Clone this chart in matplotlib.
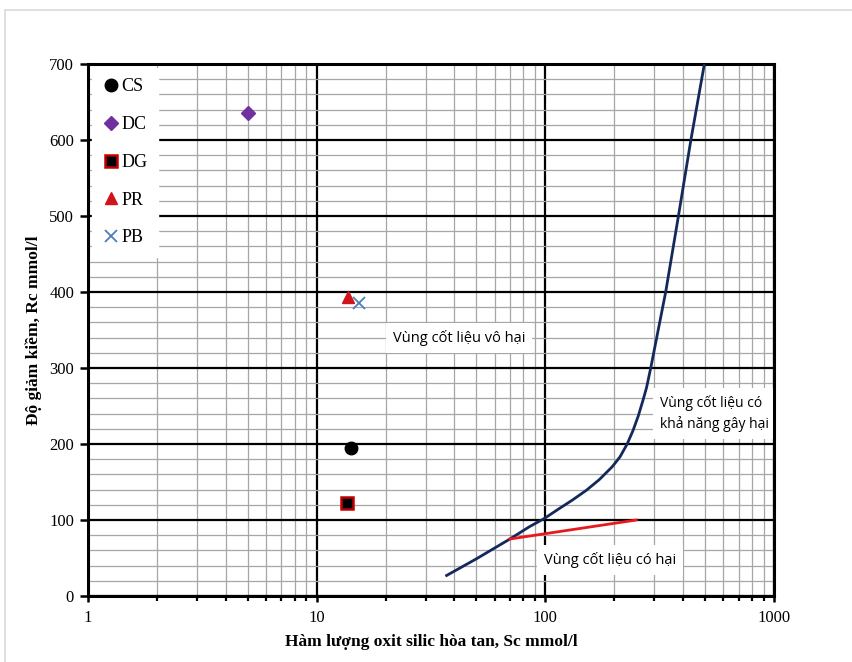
import matplotlib
matplotlib.use('Agg')
import matplotlib.pyplot as plt
import matplotlib.ticker as mticker
from matplotlib.patches import Rectangle

# data
sample_names = ['CS', 'DC', 'DG', 'PR', 'PB']
sample_sc = [14.2, 5.0, 13.6, 13.7, 15.3]
sample_rc = [195, 635, 122, 394, 385]

curve_sc = [37, 50, 70, 85, 99, 115, 131, 151, 172, 196, 212, 228, 242, 255, 267, 277,
            289, 336, 382, 433, 496]
curve_rc = [27, 49, 75, 91, 102, 115, 126, 139, 153, 170, 183, 200, 218, 237, 257, 274,
            300, 400, 500, 600, 700]

red_sc = [70, 250]
red_rc = [75, 100]

plt.rcParams.update({
    'font.family': 'serif',
    'font.serif': ['Liberation Serif', 'DejaVu Serif'],
    'font.size': 11,
})

fig = plt.figure(figsize=(8.53, 6.62), dpi=100)
fig.patches.append(Rectangle((5 / 853, -0.01), 1.0, 1 - 10 / 662 + 0.01,
                             transform=fig.transFigure, fill=False,
                             edgecolor='#d9d9d9', linewidth=1.2))
ax = fig.add_axes([88 / 853, 1 - 596 / 662, (774 - 88) / 853, (596 - 64) / 662])

ax.set_xscale('log')
ax.set_xlim(1, 1000)
ax.set_ylim(0, 700)
ax.yaxis.set_major_locator(mticker.MultipleLocator(100))
ax.yaxis.set_minor_locator(mticker.MultipleLocator(20))
ax.xaxis.set_major_formatter(mticker.FuncFormatter(lambda v, p: f'{v:g}'))
ax.xaxis.set_minor_formatter(mticker.NullFormatter())

ax.grid(which='minor', color='#a6a6a6', linewidth=0.9, zorder=0)
ax.grid(which='major', color='black', linewidth=1.6, zorder=0.5)
for s in ax.spines.values():
    s.set_linewidth(2.2)

ax.tick_params(axis='y', which='major', direction='out', length=6, width=1.8,
               labelsize=12, pad=4)
ax.tick_params(axis='y', which='minor', length=0)
ax.tick_params(axis='x', which='major', direction='out', length=4, width=1.8,
               labelsize=12, pad=6)
ax.tick_params(axis='x', which='minor', direction='out', length=3.5, width=1.6)

# curves
ax.plot(curve_sc, curve_rc, color='#14285c', linewidth=2.0, zorder=3)
ax.plot(red_sc, red_rc, color='#e8191c', linewidth=2.0, zorder=3)

# sample points
styles = {
    'CS': dict(marker='o', color='black', markersize=9),
    'DC': dict(marker='D', color='#7030a0', markersize=7),
    'DG': dict(marker='s', color='black', markeredgecolor='#c00000',
               markeredgewidth=1.8, markersize=9),
    'PR': dict(marker='^', color='#d0141c', markersize=9),
    'PB': dict(marker='x', color='#4a7ebb', markersize=9, markeredgewidth=1.3),
}
for name, sc, rc in zip(sample_names, sample_sc, sample_rc):
    ax.plot([sc], [rc], linestyle='none', label=name, zorder=4, **styles[name])

leg = ax.legend(loc='upper left', bbox_to_anchor=(0.0, 1.0), frameon=True,
                fancybox=False, framealpha=1, edgecolor='white', facecolor='white',
                fontsize=13, labelspacing=1.15, handlelength=1.0, handletextpad=0.05,
                borderpad=0.6, borderaxespad=0.2)
leg.set_zorder(5)

box = dict(facecolor='white', edgecolor='none', pad=5)
tfont = ['Open Sans', 'DejaVu Sans']
ax.text(42, 340, 'Vùng cốt liệu vô hại', family=tfont, fontsize=10.5,
        va='center', ha='center', bbox=box, zorder=2)
ax.text(318, 240, 'Vùng cốt liệu có\nkhả năng gây hại', family=tfont, fontsize=10,
        va='center', ha='left', linespacing=1.4, bbox=box, zorder=2)
ax.text(192, 48, 'Vùng cốt liệu có hại', family=tfont, fontsize=10.5,
        va='center', ha='center', bbox=box, zorder=2)

ax.set_xlabel('Hàm lượng oxit silic hòa tan, Sc mmol/l', fontsize=12.5,
              fontweight='bold', labelpad=6)
ax.set_ylabel('Độ giảm kiềm, Rc mmol/l', fontsize=12.5, fontweight='bold', labelpad=5)

fig.savefig('out.png', dpi=100)
